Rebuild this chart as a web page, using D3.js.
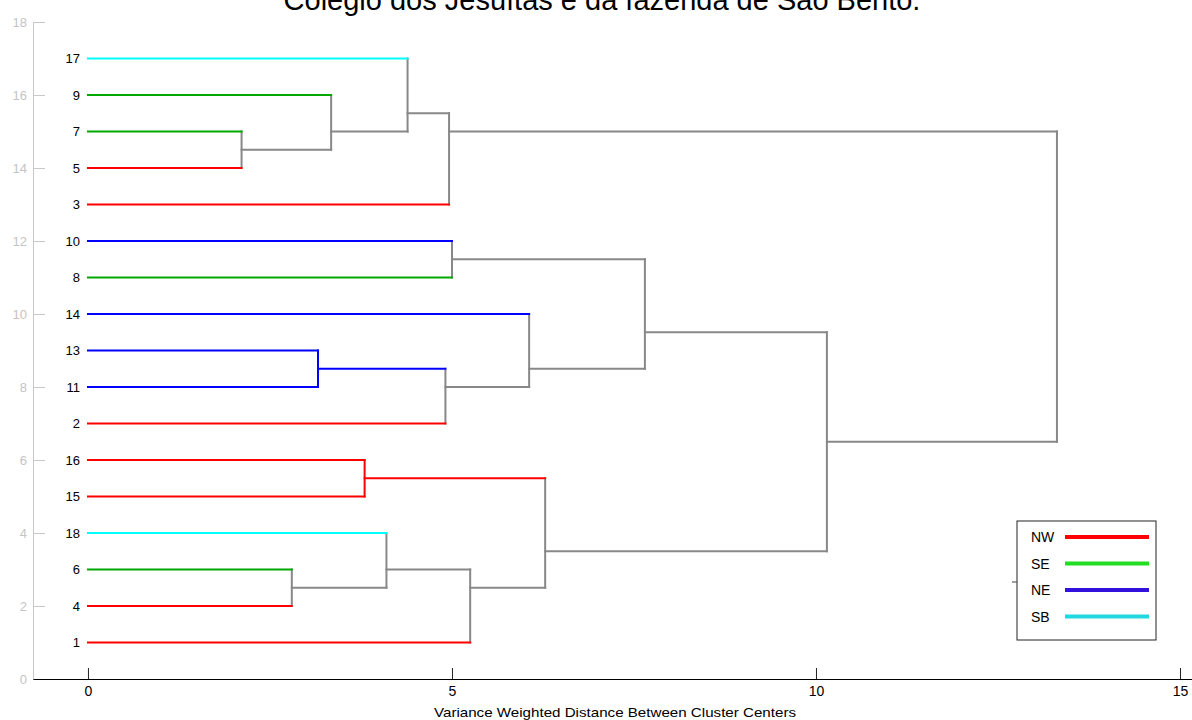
<!DOCTYPE html>
<html>
<head>
<meta charset="utf-8">
<script src="https://cdn.jsdelivr.net/npm/d3@7"></script>
<style>
  html, body { margin: 0; padding: 0; background: #fff; }
  svg { display: block; }
</style>
</head>
<body>
<svg id="chart" width="1192" height="720"></svg>
<script>
// ---- data ----
const titleText = "Colégio dos Jesuítas e da fazenda de São Bento.";
const xAxisTitle = "Variance Weighted Distance Between Cluster Centers";

// leaves from bottom (position 1) to top (position 17)
const leafLabels = ["1", "4", "6", "18", "15", "16", "2", "11", "13", "14", "8", "10", "3", "5", "7", "9", "17"];
const leafRegion = ["NW", "NW", "SE", "SB", "NW", "NW", "NW", "NE", "NE", "NE", "SE", "NE", "NW", "NW", "SE", "SE", "SB"];

// merges (like a linkage table): cluster cN joins mergeA[N-1] and mergeB[N-1] at mergeHeight[N-1]
const mergeA = ["7", "9", "17", "c3", "10", "13", "c6", "14", "c5", "16", "6", "18", "c12", "c10", "c9", "c4"];
const mergeB = ["5", "c1", "c2", "3", "8", "11", "2", "c7", "c8", "15", "4", "c11", "1", "c13", "c14", "c15"];
const mergeHeight = [2.11, 3.34, 4.39, 4.96, 5.0, 3.16, 4.91, 6.06, 7.65, 3.80, 2.80, 4.10, 5.25, 6.28, 10.15, 13.31];

const regions = ["NW", "SE", "NE", "SB"];
const lineColors = ["#ff0000", "#00a800", "#0000ff", "#00ffff"];
const legendColors = ["#ff0000", "#22dd22", "#3311dd", "#22d8e0"];

const xTicks = [0, 5, 10, 15];
const yTicks = [0, 2, 4, 6, 8, 10, 12, 14, 16, 18];

// ---- build tree ----
const svg = d3.select("#chart");
const regionColor = d3.scaleOrdinal().domain(regions).range(lineColors);
const legendColor = d3.scaleOrdinal().domain(regions).range(legendColors);
const linkGray = "#888888";

const nodes = new Map();
leafLabels.forEach((lab, i) => {
  nodes.set(lab, { id: lab, h: 0, leaves: [i + 1], color: regionColor(leafRegion[i]), leaf: true });
});
mergeA.forEach((a, i) => {
  const A = nodes.get(a), B = nodes.get(mergeB[i]);
  const leaves = A.leaves.concat(B.leaves);
  nodes.set("c" + (i + 1), {
    id: "c" + (i + 1), h: mergeHeight[i], leaves,
    color: A.color === B.color ? A.color : linkGray,
    a: A, b: B
  });
});
nodes.forEach(n => { n.pos = d3.mean(n.leaves); });

// ---- scales ----
const x = d3.scaleLinear().domain([-0.755, 15.165]).range([33, 1192]);
const y = d3.scaleLinear().domain([0, 18]).range([679, 22]);

// ---- axes ----
const yAxis = svg.append("g")
  .attr("transform", `translate(${x(-0.755)},0)`)
  .call(d3.axisLeft(y).tickValues(yTicks).tickSizeInner(-12).tickSizeOuter(0).tickPadding(6));
yAxis.select(".domain").attr("stroke", "#c8c8c8");
yAxis.selectAll(".tick line").attr("stroke", "#c8c8c8");
yAxis.selectAll(".tick text")
  .attr("fill", "#c4c4c4")
  .style("font-family", "'Liberation Sans Narrow', 'Arial Narrow', 'Liberation Sans', Arial, sans-serif")
  .style("font-size", "13px");

const xAxis = svg.append("g")
  .attr("transform", `translate(0,${y(0)})`)
  .call(d3.axisBottom(x).tickValues(xTicks).tickSizeInner(-11).tickSizeOuter(0).tickPadding(7));
xAxis.select(".domain").attr("stroke", "#000");
xAxis.selectAll(".tick line").attr("stroke", "#222");
xAxis.selectAll(".tick text")
  .attr("fill", "#000")
  .style("font-family", "'Liberation Sans Narrow', 'Arial Narrow', 'Liberation Sans', Arial, sans-serif")
  .style("font-size", "14px");

svg.append("text")
  .attr("x", 615).attr("y", 717)
  .attr("text-anchor", "middle")
  .attr("textLength", 362).attr("lengthAdjust", "spacingAndGlyphs")
  .style("font-family", "'Liberation Sans Narrow', 'Arial Narrow', 'Liberation Sans', Arial, sans-serif")
  .style("font-size", "13px")
  .attr("fill", "#000")
  .text(xAxisTitle);

// ---- title (clipped at top) ----
svg.append("text")
  .attr("x", 602).attr("y", 10)
  .attr("text-anchor", "middle")
  .style("font-family", "'Liberation Sans', Arial, sans-serif")
  .style("font-size", "29px")
  .attr("fill", "#000")
  .text(titleText);

// ---- dendrogram ----
const g = svg.append("g").attr("fill", "none").attr("stroke-width", 2).attr("stroke-linecap", "square");
const segs = [];
nodes.forEach(n => {
  if (n.leaf) return;
  [n.a, n.b].forEach(c => {
    segs.push({ x1: c.h, y1: c.pos, x2: n.h, y2: c.pos, color: c.color });
  });
  segs.push({ x1: n.h, y1: n.a.pos, x2: n.h, y2: n.b.pos, color: n.color });
});
// draw gray first, colored on top
segs.sort((p, q) => (p.color === linkGray ? 0 : 1) - (q.color === linkGray ? 0 : 1));
g.selectAll("line").data(segs).join("line")
  .attr("x1", d => x(d.x1)).attr("x2", d => x(d.x2))
  .attr("y1", d => y(d.y1)).attr("y2", d => y(d.y2))
  .attr("stroke", d => d.color);

// leaf labels
svg.append("g").selectAll("text").data(leafLabels).join("text")
  .attr("x", x(0) - 8)
  .attr("y", (d, i) => y(i + 1))
  .attr("dy", "0.36em")
  .attr("text-anchor", "end")
  .style("font-family", "'Liberation Sans', Arial, sans-serif")
  .style("font-size", "13px")
  .attr("fill", "#000")
  .text(d => d);

// ---- legend ----
const lg = svg.append("g").attr("transform", "translate(1017,521)");
lg.append("rect").attr("x", 0).attr("y", 0).attr("width", 139).attr("height", 119)
  .attr("fill", "#fff").attr("stroke", "#222").attr("stroke-width", 1);
lg.append("line").attr("x1", -5).attr("x2", 0).attr("y1", 61).attr("y2", 61).attr("stroke", "#444");
const rows = lg.selectAll("g.row").data(regions).join("g").attr("class", "row")
  .attr("transform", (d, i) => `translate(0,${16 + i * 26.5})`);
rows.append("text")
  .attr("x", 14).attr("y", 0).attr("dy", "0.36em")
  .style("font-family", "'Liberation Sans', Arial, sans-serif")
  .style("font-size", "14px")
  .attr("fill", "#000")
  .text(d => d);
rows.append("line")
  .attr("x1", 48).attr("x2", 132).attr("y1", 0).attr("y2", 0)
  .attr("stroke", d => legendColor(d)).attr("stroke-width", 4);
</script>
</body>
</html>
